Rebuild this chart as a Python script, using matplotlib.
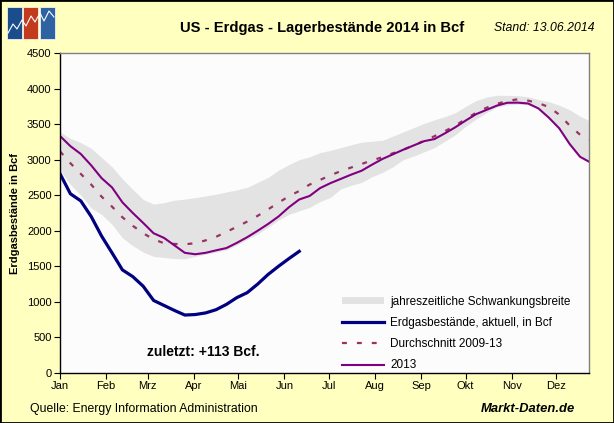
# US Erdgas Lagerbestaende 2014 - weekly storage chart
import numpy as np
import matplotlib.pyplot as plt
from matplotlib.patches import Rectangle, Patch
from matplotlib.lines import Line2D

plt.rcParams['font.family'] = ['Liberation Sans', 'DejaVu Sans']

# month tick labels and month start days
months = ["Jan", "Feb", "Mrz", "Apr", "Mai", "Jun", "Jul", "Aug", "Sep", "Okt", "Nov", "Dez"]
month_days = [0, 31, 59, 90, 120, 151, 181, 212, 243, 273, 304, 334]

# weekly values in Bcf
stock_2014 = [2803, 2520, 2420, 2200, 1925, 1690, 1450, 1355, 1220, 1020,
              950, 880, 815, 822, 845, 890, 965, 1060, 1130, 1250,
              1385, 1500, 1608, 1711]

stock_2013 = [3333, 3190, 3080, 2920, 2740, 2610, 2400, 2250, 2110, 1965,
              1900, 1795, 1690, 1670, 1690, 1725, 1757, 1830, 1910, 2000,
              2095, 2200, 2330, 2440, 2490, 2600, 2670, 2730, 2790, 2845,
              2930, 3010, 3075, 3140, 3200, 3260, 3290, 3370, 3455, 3550,
              3640, 3700, 3760, 3800, 3802, 3790, 3720, 3590, 3440, 3220,
              3040, 2960]

avg_0913 = [3117, 2950, 2800, 2650, 2480, 2340, 2190, 2070, 1965, 1880,
            1825, 1815, 1810, 1825, 1865, 1915, 1985, 2055, 2130, 2210,
            2300, 2395, 2485, 2560, 2650, 2715, 2780, 2840, 2890, 2940,
            2990, 3035, 3090, 3140, 3200, 3265, 3330, 3400, 3480, 3570,
            3660, 3730, 3785, 3825, 3849, 3830, 3795, 3740, 3633, 3480,
            3350, 3280]

band_max = [3389, 3300, 3240, 3160, 3030, 2900, 2730, 2580, 2440, 2375,
            2395, 2430, 2445, 2466, 2490, 2515, 2545, 2575, 2610, 2680,
            2750, 2850, 2930, 3000, 3040, 3100, 3130, 3170, 3210, 3245,
            3260, 3272, 3330, 3390, 3450, 3510, 3560, 3605, 3660, 3750,
            3830, 3880, 3905, 3905, 3900, 3885, 3845, 3815, 3765, 3700,
            3610, 3540]

band_min = [2850, 2650, 2500, 2320, 2230, 2090, 1900, 1790, 1700, 1640,
            1625, 1610, 1605, 1640, 1670, 1700, 1730, 1800, 1880, 1955,
            2050, 2150, 2230, 2280, 2330, 2410, 2470, 2590, 2640, 2680,
            2760, 2820, 2900, 3000, 3050, 3110, 3170, 3260, 3350, 3470,
            3570, 3660, 3740, 3770, 3780, 3770, 3720, 3590, 3440, 3220,
            3040, 2960]

# x positions: one point per week (days since Jan 1)
days_year = np.arange(len(stock_2013)) * 7
days_2014 = np.arange(len(stock_2014)) * 7

bg = '#FFFFC0'
fig = plt.figure(figsize=(6.14, 4.23), dpi=100, facecolor=bg)
ax = fig.add_axes([60 / 614, 1 - 373 / 423, 529 / 614, 320 / 423])
ax.set_facecolor('#FCFCFC')

# seasonal range, average, 2013, 2014
ax.fill_between(days_year, band_min, band_max, color='#E3E3E3', lw=0)
ax.plot(days_year, avg_0913, color='#993366', lw=1.6, dashes=(2.2, 4.5))
ax.plot(days_year, stock_2013, color='#800080', lw=1.5)
ax.plot(days_2014, stock_2014, color='#000080', lw=2.3)

ax.set_xlim(0, 356)
ax.set_ylim(0, 4500)
ax.set_yticks(range(0, 4501, 500))
ax.set_xticks(month_days)
ax.set_xticklabels(months)
ax.tick_params(axis='both', labelsize=8, length=4, width=0.8, direction='out', pad=2)
ax.tick_params(axis='x', pad=1.5)
for s in ['top', 'right']:
    ax.spines[s].set_color('#808080')
    ax.spines[s].set_linewidth(1)
for s in ['left', 'bottom']:
    ax.spines[s].set_color('black')
    ax.spines[s].set_linewidth(1)

ax.set_ylabel("Erdgasbestände in Bcf", fontsize=8, fontweight='bold')
ax.yaxis.set_label_coords(-0.075, 0.5)

ax.text(0.270, 0.065, "zuletzt: +113 Bcf.", transform=ax.transAxes,
        ha='center', va='center', fontsize=10, fontweight='bold')

# legend
handles = [Patch(facecolor='#E3E3E3', edgecolor='none'),
           Line2D([], [], color='#000080', lw=2.3),
           Line2D([], [], color='#993366', lw=1.6, dashes=(2.2, 4.5)),
           Line2D([], [], color='#800080', lw=1.5)]
labels = ["jahreszeitliche Schwankungsbreite", "Erdgasbestände, aktuell, in Bcf",
          "Durchschnitt 2009-13", "2013"]
ax.legend(handles, labels, loc='lower left', bbox_to_anchor=(0.524, -0.01),
          frameon=False, fontsize=8.5, handlelength=3.6, handleheight=0.6,
          handletextpad=0.5, labelspacing=0.78, borderpad=0.2, borderaxespad=0.2)

# header and footer texts
fig.text(322 / 614, 1 - 28 / 423, "US - Erdgas - Lagerbestände 2014 in Bcf",
         ha='center', va='center', fontsize=10.6, fontweight='bold')
fig.text(595 / 614, 1 - 28 / 423, "Stand: 13.06.2014", ha='right', va='center',
         fontsize=8.85, style='italic')
fig.text(30 / 614, 1 - 409 / 423, "Quelle: Energy Information Administration",
         ha='left', va='center', fontsize=8.85)
fig.text(575 / 614, 1 - 409 / 423, "Markt-Daten.de", ha='right', va='center',
         fontsize=9.4, fontweight='bold', style='italic')

# small logo at the top left
logo_cols = ['#1B4C8C', '#C23B1E', '#2E62A3']
for i, c in enumerate(logo_cols):
    fig.patches.append(Rectangle(((7 + i * 16.3) / 614, 1 - 39 / 423), 15 / 614, 32 / 423,
                                 transform=fig.transFigure, facecolor=c, edgecolor='white', lw=0.5))
zig_x = np.array([8, 13, 17, 22, 26, 31, 35, 40, 44, 49, 54]) / 614
zig_y = 1 - np.array([33, 24, 29, 20, 26, 16, 22, 13, 21, 11, 17]) / 423
fig.lines.append(Line2D(zig_x, zig_y, transform=fig.transFigure, color='white', lw=0.8))

# outer frame
fig.patches.append(Rectangle((0, 0), 1, 1, transform=fig.transFigure, fill=False,
                             edgecolor='black', lw=2))

fig.savefig('out.png', dpi=100, facecolor=bg)
